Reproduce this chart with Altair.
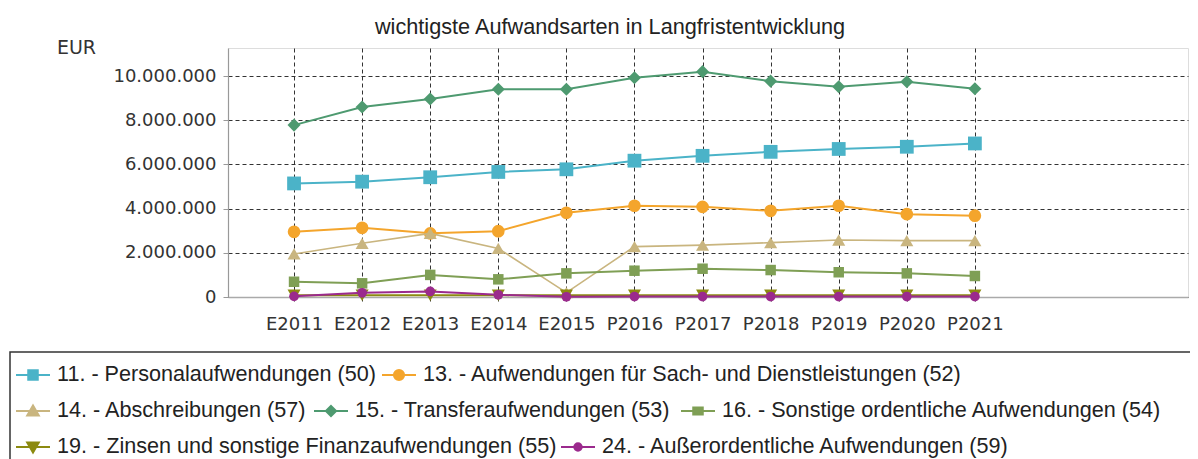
import altair as alt
import pandas as pd

# ---------------- data ----------------
categories = ["E2011", "E2012", "E2013", "E2014", "E2015", "P2016",
              "P2017", "P2018", "P2019", "P2020", "P2021"]

series_names = [
    "11. - Personalaufwendungen (50)",
    "13. - Aufwendungen für Sach- und Dienstleistungen (52)",
    "14. - Abschreibungen (57)",
    "15. - Transferaufwendungen (53)",
    "16. - Sonstige ordentliche Aufwendungen (54)",
    "19. - Zinsen und sonstige Finanzaufwendungen (55)",
    "24. - Außerordentliche Aufwendungen (59)",
]

personal = [5140000, 5220000, 5420000, 5660000, 5780000, 6170000,
            6390000, 6570000, 6700000, 6800000, 6950000]
sach = [2950000, 3130000, 2880000, 2980000, 3810000, 4130000,
        4080000, 3900000, 4130000, 3750000, 3680000]
abschreibungen = [1950000, 2430000, 2880000, 2200000, 200000, 2280000,
                  2350000, 2460000, 2580000, 2550000, 2550000]
transfer = [7780000, 8600000, 8960000, 9400000, 9400000, 9920000,
            10200000, 9770000, 9520000, 9740000, 9430000]
sonstige = [690000, 620000, 1000000, 800000, 1070000, 1190000,
            1280000, 1220000, 1120000, 1070000, 950000]
zinsen = [80000, 80000, 80000, 80000, 80000, 80000,
          80000, 80000, 80000, 80000, 80000]
ausserordentlich = [30000, 190000, 250000, 100000, 10000, 20000,
                    20000, 20000, 20000, 20000, 20000]

series_values = [personal, sach, abschreibungen, transfer, sonstige, zinsen, ausserordentlich]

y_ticks = [0, 2000000, 4000000, 6000000, 8000000, 10000000]

# ---------------- styles ----------------
colors = ["#4BB3C8", "#F4A52C", "#C9B57F", "#4E9A70", "#7F9F55", "#8C8A10", "#9B2A8D"]
shapes = ["square", "circle", "triangle-up", "diamond", "square", "triangle-down", "circle"]
sizes = [190, 160, 170, 170, 110, 170, 95]
line_widths = [2, 2, 1.6, 2, 2, 2, 2]
legend_paths = [
    "M-1,0H1M-0.28,-0.28H0.28V0.28H-0.28Z",
    "M-1,0H1M-0.3,0A0.3,0.3 0 1,0 0.3,0A0.3,0.3 0 1,0 -0.3,0Z",
    "M-1,0H1M-0.34,0.26L0,-0.32L0.34,0.26Z",
    "M-1,0H1M0,-0.3L0.3,0L0,0.3L-0.3,0Z",
    "M-1,0H1M-0.28,-0.2H0.28V0.2H-0.28Z",
    "M-1,0H1M-0.34,-0.26L0,0.32L0.34,-0.26Z",
    "M-1,0H1M-0.22,0A0.22,0.22 0 1,0 0.22,0A0.22,0.22 0 1,0 -0.22,0Z",
]
# legend entry positions relative to the plot's top-left corner (layout)
legend_x = [-213, 153, -213, 85, 452, -213, 332]
legend_y = [309, 309, 345, 345, 345, 381, 381]

PLOT_W, PLOT_H = 960, 249

rows = []
for name, vals in zip(series_names, series_values):
    for i, v in enumerate(vals):
        rows.append({"series": name, "idx": i, "cat": categories[i], "value": v})
df = pd.DataFrame(rows)

label_expr_x = "[" + ",".join("'" + c + "'" for c in categories) + "][datum.value]"

x_scale = alt.Scale(domain=[-0.97, 13.13], nice=False, zero=False)
y_scale = alt.Scale(domain=[0, 11270000], nice=False)

x_axis = alt.Axis(
    values=list(range(len(categories))), labelExpr=label_expr_x, title=None,
    labelFont="DejaVu Sans", labelFontSize=18, labelColor="#333", labelAngle=0,
    labelPadding=12, labelOverlap=False, labelFlush=False,
    tickSize=6, tickColor="#333", tickDash=[4, 3],
    domainColor="#aaaaaa", domainWidth=1.5,
    grid=True, gridColor="#333", gridDash=[4, 3], gridWidth=1,
)
y_axis = alt.Axis(
    values=y_ticks,
    labelExpr="replace(format(datum.value, ','), regexp(',', 'g'), '.')",
    title="EUR", titleAngle=0, titleX=-152, titleY=-1, titleAlign="center",
    titleBaseline="middle", titleFont="DejaVu Sans", titleFontSize=19,
    titleFontWeight="normal", titleColor="#333",
    labelFont="DejaVu Sans", labelFontSize=18, labelColor="#333",
    labelPadding=7, labelFlush=False,
    tickSize=5, tickColor="#999",
    domainColor="#999", domainWidth=1.2,
    grid=True, gridColor="#333", gridDash=[4, 3], gridWidth=1,
)

layers = []
for i, name in enumerate(series_names):
    d = df[df["series"] == name]
    base = alt.Chart(d).encode(
        x=alt.X("idx:Q", scale=x_scale, axis=x_axis),
        y=alt.Y("value:Q", scale=y_scale, axis=y_axis),
    )
    line = base.mark_line(color=colors[i], strokeWidth=line_widths[i])
    pts = base.mark_point(shape=shapes[i], size=sizes[i], filled=True, opacity=1).encode(
        color=alt.Color(
            "series:N",
            scale=alt.Scale(domain=[name], range=[colors[i]]),
            legend=alt.Legend(
                orient="none", legendX=legend_x[i], legendY=legend_y[i], title=None,
                symbolType=legend_paths[i], symbolSize=1156, symbolStrokeWidth=2,
                symbolFillColor=colors[i], symbolStrokeColor=colors[i],
                labelFont="Liberation Sans", labelFontSize=21.6, labelColor="#222",
                labelOffset=6, labelLimit=1000, padding=0,
            ),
        )
    )
    layers.append(alt.layer(line, pts))

frame = alt.Chart(pd.DataFrame({"k": [0]})).mark_rect(
    fillOpacity=0, stroke="#333", strokeWidth=1.5
).encode(
    x=alt.value(-218), x2=alt.value(1100), y=alt.value(304), y2=alt.value(260 + PLOT_H)
)

chart = alt.layer(frame, *layers).resolve_scale(color="independent").properties(
    width=PLOT_W, height=PLOT_H,
    title=alt.TitleParams(
        text="wichtigste Aufwandsarten in Langfristentwicklung",
        font="Liberation Sans", fontSize=21.7, fontWeight="normal", color="#222",
        anchor="middle", frame="group", dx=-98, dy=9, offset=8,
    ),
    autosize=alt.AutoSizeParams(type="none"),
    padding={"left": 220, "top": 40, "right": 2, "bottom": 162},
).configure_view(stroke=None).configure(background="white")

chart.save("out.html", embed_options={"renderer": "svg", "actions": False})
